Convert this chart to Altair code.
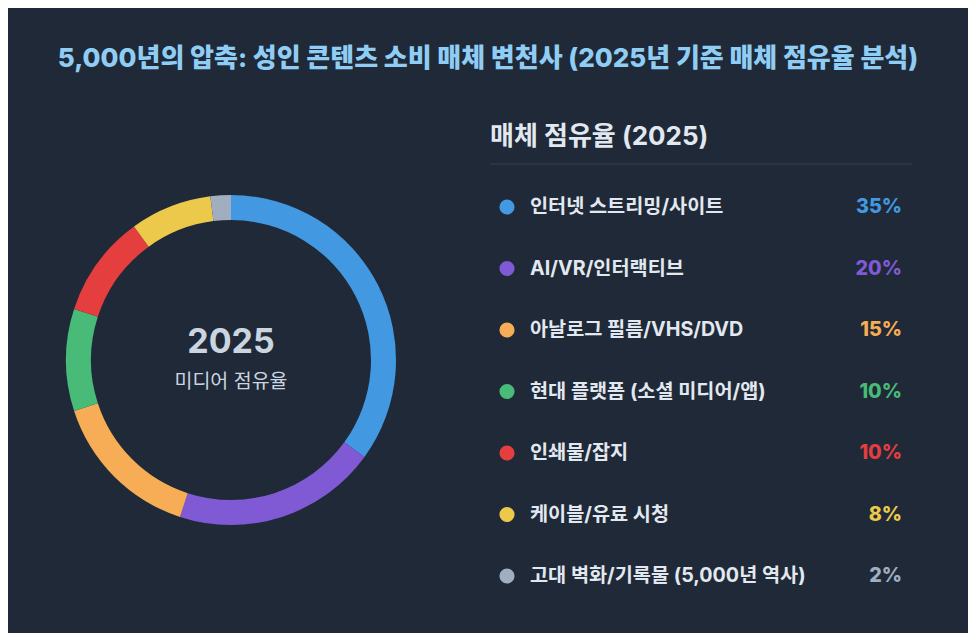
import altair as alt
import pandas as pd

categories = [
    "인터넷 스트리밍/사이트",
    "AI/VR/인터랙티브",
    "아날로그 필름/VHS/DVD",
    "현대 플랫폼 (소셜 미디어/앱)",
    "인쇄물/잡지",
    "케이블/유료 시청",
    "고대 벽화/기록물 (5,000년 역사)",
]
shares = [35, 20, 15, 10, 10, 8, 2]
colors = ["#4299e1", "#805ad5", "#f6ad55", "#48bb78", "#e53e3e", "#ecc94b", "#a0aec0"]
title_text = "5,000년의 압축: 성인 콘텐츠 소비 매체 변천사 (2025년 기준 매체 점유율 분석)"
legend_header = "매체 점유율 (2025)"
center_year = "2025"
center_caption = "미디어 점유율"

df = pd.DataFrame({"category": categories, "share": shares, "idx": list(range(len(categories)))})
df["pct"] = df["share"].astype(str) + "%"

FONT = "Inter, Noto Sans CJK KR, sans-serif"
BG = "#1f2937"

color = alt.Color("category:N", scale=alt.Scale(domain=categories, range=colors), legend=None)
ypos = alt.Y("category:N", sort=categories,
             scale=alt.Scale(type="point", range=[119, 488], padding=0), axis=None)

base = alt.Chart(df)

donut = base.mark_arc(innerRadius=140, outerRadius=165).encode(
    theta=alt.Theta("share:Q", stack=True),
    order=alt.Order("idx:Q"),
    color=color,
    x=alt.value(223),
    y=alt.value(272),
)

year_txt = alt.Chart(pd.DataFrame({"t": [center_year]})).mark_text(
    font=FONT, fontSize=34, fontWeight="bold", color="#cbd5e0", align="center", baseline="middle"
).encode(text="t:N", x=alt.value(223), y=alt.value(255))

cap_txt = alt.Chart(pd.DataFrame({"t": [center_caption]})).mark_text(
    font=FONT, fontSize=19.5, color="#cbd5e0", align="center", baseline="middle"
).encode(text="t:N", x=alt.value(223), y=alt.value(294))

header = alt.Chart(pd.DataFrame({"t": [legend_header]})).mark_text(
    font=FONT, fontSize=26, fontWeight="bold", color="#e2e8f0", align="left", baseline="middle"
).encode(text="t:N", x=alt.value(482), y=alt.value(49))

divider = alt.Chart(pd.DataFrame({"t": [legend_header]})).mark_rule(
    color="#374151", strokeWidth=1
).encode(x=alt.value(482), x2=alt.value(904), y=alt.value(76))

dots = base.mark_circle(size=230, opacity=1).encode(
    x=alt.value(499), y=ypos, color=color
)

labels = base.mark_text(
    font=FONT, fontSize=19.7, fontWeight="bold", color="#e2e8f0", align="left", baseline="middle"
).encode(x=alt.value(522), y=ypos, text="category:N")

pcts = base.mark_text(
    font=FONT, fontSize=19.7, fontWeight=800, align="right", baseline="middle"
).encode(x=alt.value(894), y=ypos, text="pct:N", color=color)

chart = alt.layer(donut, year_txt, cap_txt, header, divider, dots, labels, pcts).properties(
    width=960,
    height=545,
    autosize=alt.AutoSizeParams(type="none"),
    padding={"left": 0, "top": 80, "right": 0, "bottom": 0},
    title=alt.Title(title_text, fontSize=26, fontWeight=800, color="#90cdf4", font=FONT,
                    anchor="middle", frame="group", offset=16),
).configure(background=BG).configure_view(stroke=None)

chart.save("out.html", embed_options={"renderer": "svg", "actions": False})
